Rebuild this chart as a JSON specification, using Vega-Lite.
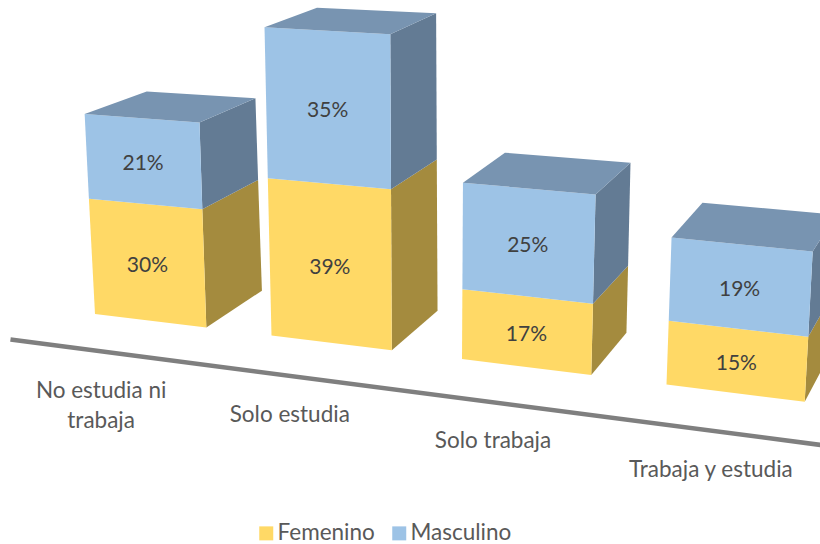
{
"$schema":"https://vega.github.io/schema/vega-lite/v6.json",
"width":820,"height":544,"padding":0,
"autosize":{"type":"fit","contains":"padding"},
"background":"white",
"view":{"stroke":null},
"config":{"font":"Lato"},
"datasets":{
"barras":[
{"categoria":"No estudia ni trabaja","genero":"Femenino","porcentaje":30},
{"categoria":"No estudia ni trabaja","genero":"Masculino","porcentaje":21},
{"categoria":"Solo estudia","genero":"Femenino","porcentaje":39},
{"categoria":"Solo estudia","genero":"Masculino","porcentaje":35},
{"categoria":"Solo trabaja","genero":"Femenino","porcentaje":17},
{"categoria":"Solo trabaja","genero":"Masculino","porcentaje":25},
{"categoria":"Trabaja y estudia","genero":"Femenino","porcentaje":15},
{"categoria":"Trabaja y estudia","genero":"Masculino","porcentaje":19}
],
"eje":[{"u":-0.18},{"u":4.2}]
},
"data":{"name":"barras"},
"transform":[
{"stack":"porcentaje","groupby":["categoria"],"sort":[{"field":"genero","order":"ascending"}],"as":["v0","v1"]},
{"calculate":"indexof(['No estudia ni trabaja','Solo estudia','Solo trabaja','Trabaja y estudia'],datum.categoria)","as":"i"}
],
"layer":[
{
"transform":[
{"calculate":"datum.genero=='Masculino'?['lado','frente','techo']:['lado','frente']","as":"cara"},
{"flatten":["cara"]},
{"calculate":"[0,1,2,3]","as":"k"},
{"flatten":["k"]},
{"calculate":"datum.i+(datum.cara=='frente'||datum.cara=='techo'?((datum.k==0||datum.k==3)?0:0.64):0.64)","as":"u"},
{"calculate":"datum.cara=='techo'?datum.v1:((datum.k<2)?datum.v0:datum.v1)","as":"v"},
{"calculate":"datum.cara=='frente'?0:(datum.cara=='lado'?((datum.k==1||datum.k==2)?1:0):(datum.k>=2?1:0))","as":"d"},
{"calculate":"95+169.5*datum.u+7*datum.u*datum.u","as":"xb"},
{"calculate":"314+20.5*datum.u+1*datum.u*datum.u","as":"yb"},
{"calculate":"datum.xb+(datum.xb-425)*0.000615*datum.v","as":"xv"},
{"calculate":"datum.yb-(3.73+0.15*datum.u)*datum.v*(1+0.001*datum.v)","as":"yv"},
{"calculate":"datum.xv+datum.d*(66.5-0.053*datum.xv)","as":"sx"},
{"calculate":"datum.yv-datum.d*(34+0.014*datum.xb-0.25*datum.v)","as":"sy"},
{"calculate":"datum.cara=='frente'?datum.genero:datum.genero+' '+datum.cara","as":"tono"},
{"calculate":"datum.categoria+datum.genero+datum.cara","as":"poligono"}
],
"mark":{"type":"line","strokeWidth":0,"interpolate":"linear-closed","clip":true},
"encoding":{
"x":{"field":"sx","type":"quantitative","scale":{"domain":[0,820],"nice":false,"zero":false},"axis":null},
"y":{"field":"sy","type":"quantitative","scale":{"domain":[544,0],"nice":false,"zero":false},"axis":null},
"detail":{"field":"poligono"},
"order":{"field":"k"},
"fill":{"field":"tono","type":"nominal","scale":{"domain":["Femenino","Masculino","Femenino lado","Masculino lado","Masculino techo"],"range":["#ffd966","#9dc3e6","#a48b3e","#637b94","#7894b1"]},
"legend":{"values":["Femenino","Masculino"],"title":null,"orient":"none","legendX":255,"legendY":522,"direction":"horizontal","symbolType":"square","symbolSize":196,"labelFontSize":22.5,"labelColor":"#595959","labelFont":"Lato","labelOffset":0,"columnPadding":13,"symbolStrokeWidth":0}}
}
},
{
"transform":[
{"calculate":"datum.i+0.32","as":"u"},
{"calculate":"(datum.v0+datum.v1)/2","as":"v"},
{"calculate":"95+169.5*datum.u+7*datum.u*datum.u","as":"xb"},
{"calculate":"314+20.5*datum.u+1*datum.u*datum.u","as":"yb"},
{"calculate":"datum.xb+(datum.xb-425)*0.000615*datum.v","as":"sx"},
{"calculate":"datum.yb-(3.73+0.15*datum.u)*datum.v*(1+0.001*datum.v)","as":"sy"},
{"calculate":"datum.porcentaje+'%'","as":"etiqueta"}
],
"mark":{"type":"text","fontSize":21,"color":"#404040","font":"Lato","dy":3},
"encoding":{
"x":{"field":"sx","type":"quantitative"},
"y":{"field":"sy","type":"quantitative"},
"text":{"field":"etiqueta"}
}
},
{
"transform":[
{"filter":"datum.genero=='Femenino'"},
{"calculate":"datum.i+0.32","as":"u"},
{"calculate":"95+169.5*datum.u+7*datum.u*datum.u","as":"xb"},
{"calculate":"314+20.5*datum.u+1*datum.u*datum.u","as":"yb"},
{"calculate":"datum.xb-0.8*(66.5-0.053*datum.xb)","as":"sx"},
{"calculate":"datum.yb+0.8*(33+0.014*datum.xb)","as":"sy"},
{"calculate":"replace(datum.categoria,' ni ',' ni\\n')","as":"rotulo"}
],
"mark":{"type":"text","fontSize":22.5,"color":"#595959","font":"Lato","lineBreak":"\n","lineHeight":30,"baseline":"middle","dy":42,"dx":-2},
"encoding":{
"x":{"field":"sx","type":"quantitative"},
"y":{"field":"sy","type":"quantitative"},
"text":{"field":"rotulo"}
}
},
{
"data":{"name":"eje"},
"transform":[
{"calculate":"95+169.5*datum.u+7*datum.u*datum.u","as":"xb"},
{"calculate":"314+20.5*datum.u+1*datum.u*datum.u","as":"yb"},
{"calculate":"datum.xb-0.86*(66.5-0.053*datum.xb)","as":"sx"},
{"calculate":"datum.yb+0.86*(33+0.014*datum.xb)","as":"sy"}
],
"mark":{"type":"line","stroke":"#7f7f7f","strokeWidth":4.5,"clip":true},
"encoding":{
"x":{"field":"sx","type":"quantitative"},
"y":{"field":"sy","type":"quantitative"},
"order":{"field":"u"}
}
}
]
}
